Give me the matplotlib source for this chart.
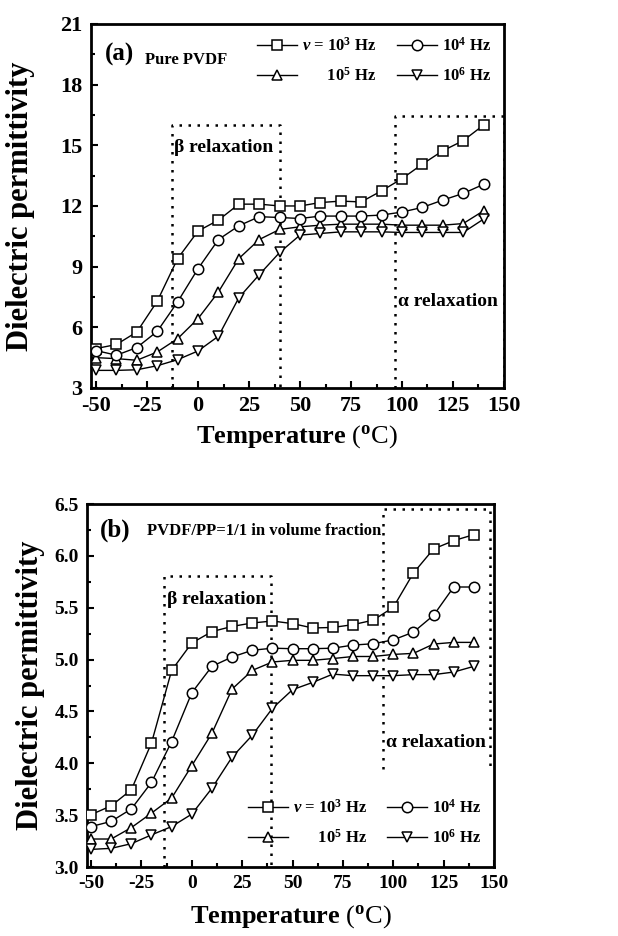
import numpy as np
import matplotlib
matplotlib.use("Agg")
import matplotlib.pyplot as plt
from matplotlib.ticker import MultipleLocator

plt.rcParams['font.family'] = ['Liberation Serif', 'DejaVu Serif']
plt.rcParams['font.weight'] = 'bold'
plt.rcParams['axes.unicode_minus'] = False
plt.rcParams['mathtext.fontset'] = 'custom'
plt.rcParams['mathtext.rm'] = 'Liberation Serif'
plt.rcParams['mathtext.bf'] = 'Liberation Serif:bold'
plt.rcParams['mathtext.it'] = 'Liberation Serif:italic'

# temperatures (C)
temp = [-50, -40, -30, -20, -10, 0, 10, 20, 30, 40, 50, 60, 70, 80, 90, 100, 110, 120, 130, 140]

# (a) pure PVDF
a_1e3 = [4.95, 5.15, 5.77, 7.29, 9.4, 10.76, 11.3, 12.09, 12.09, 12.0, 12.0, 12.17, 12.24, 12.2, 12.75, 13.35, 14.07, 14.73, 15.23, 16.0]
a_1e4 = [4.85, 4.62, 5.0, 5.8, 7.26, 8.9, 10.34, 11.02, 11.47, 11.43, 11.38, 11.5, 11.5, 11.5, 11.55, 11.7, 11.93, 12.29, 12.62, 13.07]
a_1e5 = [4.5, 4.45, 4.37, 4.78, 5.44, 6.43, 7.75, 9.4, 10.34, 10.84, 10.97, 11.05, 11.1, 11.1, 11.1, 11.05, 11.05, 11.05, 11.13, 11.76]
a_1e6 = [3.87, 3.87, 3.9, 4.1, 4.4, 4.83, 5.56, 7.46, 8.6, 9.7, 10.56, 10.64, 10.72, 10.72, 10.72, 10.69, 10.69, 10.69, 10.69, 11.35]

# (b) PVDF/PP = 1/1
b_1e3 = [3.505, 3.59, 3.745, 4.196, 4.896, 5.16, 5.27, 5.32, 5.353, 5.372, 5.347, 5.305, 5.31, 5.337, 5.38, 5.504, 5.835, 6.067, 6.147, 6.205]
b_1e4 = [3.39, 3.44, 3.56, 3.816, 4.21, 4.68, 4.935, 5.025, 5.09, 5.11, 5.105, 5.105, 5.11, 5.14, 5.153, 5.19, 5.265, 5.427, 5.7, 5.7]
b_1e5 = [3.27, 3.27, 3.38, 3.52, 3.665, 3.977, 4.29, 4.716, 4.896, 4.977, 4.993, 4.993, 5.01, 5.03, 5.03, 5.05, 5.06, 5.15, 5.166, 5.166]
b_1e6 = [3.17, 3.18, 3.225, 3.31, 3.39, 3.51, 3.76, 4.06, 4.27, 4.53, 4.71, 4.78, 4.86, 4.845, 4.845, 4.845, 4.855, 4.855, 4.88, 4.935]

labels = ["$\\it{\\nu}$ = 10$^{\\mathbf{3}}$ Hz", "      10$^{\\mathbf{5}}$ Hz",
          "10$^{\\mathbf{4}}$ Hz", "10$^{\\mathbf{6}}$ Hz"]
markers = ['s', '^', 'o', 'v']

# relaxation boxes: (x0, x1, y0, y1)
a_beta = (-13, 40, 3, 16)
a_alpha = (96.6, 150, 3, 16.45)
b_beta = (-13.6, 39.2, 3, 5.81)
b_alpha = (95, 147.9, 3.945, 6.45)

fig = plt.figure(figsize=(6.18, 9.36), dpi=100)
ax1 = fig.add_axes([0.1472, 0.5855, 0.6683, 0.3889])
ax2 = fig.add_axes([0.1408, 0.0737, 0.6586, 0.3878])


def draw_box(ax, box):
    x0, x1, y0, y1 = box
    ax.plot([x0, x0, x1, x1], [y0, y1, y1, y0], color='black', lw=1.8,
            linestyle=(0, (1, 2.6)), zorder=1)


def setup(ax, series, tick_fs):
    order = [series[0], series[2], series[1], series[3]]
    hs = []
    for ys, m in zip(order, markers):
        h, = ax.plot(temp, ys, color='black', lw=1.0, marker=m, markersize=7.5,
                     markerfacecolor='white', markeredgecolor='black', markeredgewidth=1.1, zorder=3)
        hs.append(h)
    ax.set_xlim(-52.5, 150)
    ax.xaxis.set_major_locator(MultipleLocator(25))
    ax.xaxis.set_minor_locator(MultipleLocator(12.5))
    ax.tick_params(which='both', direction='in', top=False, right=False, labelsize=tick_fs, width=1.5)
    ax.tick_params(which='major', length=5, pad=6)
    ax.tick_params(which='minor', length=3)
    for s in ax.spines.values():
        s.set_linewidth(2)
    ax.set_ylabel("Dielectric permittivity", fontsize=22, fontweight='bold')
    ax.set_xlabel(r"$\mathbf{Temperature}$ ($^{\mathrm{o}}$C)", fontsize=19, fontweight='normal')
    return hs


hs1 = setup(ax1, [a_1e3, a_1e4, a_1e5, a_1e6], 16)
ax1.set_ylim(3, 21)
ax1.yaxis.set_major_locator(MultipleLocator(3))
ax1.yaxis.set_minor_locator(MultipleLocator(1.5))
ax1.yaxis.set_label_coords(-0.136, 0.5)
ax1.xaxis.set_label_coords(0.5, -0.097)
draw_box(ax1, a_beta)
draw_box(ax1, a_alpha)
ax1.text(-45.5, 19.5, "(a)", fontsize=18, va='center')
ax1.text(-26, 19.2, "Pure PVDF", fontsize=12, va='center')
ax1.text(-12, 14.9, "β relaxation", fontsize=14, va='center')
ax1.text(98, 7.3, "α relaxation", fontsize=14, va='center')
ax1.legend(hs1, labels, ncol=2, frameon=False, fontsize=12, loc='upper right',
           bbox_to_anchor=(1.0, 1.0), handlelength=2.4, columnspacing=1.2,
           handletextpad=0.3, labelspacing=0.7, borderaxespad=0.4)

hs2 = setup(ax2, [b_1e3, b_1e4, b_1e5, b_1e6], 14)
ax2.set_xlim(-52, 150)
ax2.set_ylim(3.0, 6.5)
ax2.yaxis.set_major_locator(MultipleLocator(0.5))
ax2.yaxis.set_minor_locator(MultipleLocator(0.25))
ax2.yaxis.set_major_formatter(matplotlib.ticker.FormatStrFormatter('%.1f'))
ax2.yaxis.set_label_coords(-0.103, 0.5)
ax2.xaxis.set_label_coords(0.5, -0.1)
draw_box(ax2, b_beta)
draw_box(ax2, b_alpha)
ax2.text(-45.5, 6.25, "(b)", fontsize=18, va='center')
ax2.text(-22, 6.24, "PVDF/PP=1/1 in volume fraction", fontsize=12, va='center')
ax2.text(-12.5, 5.58, "β relaxation", fontsize=14, va='center')
ax2.text(96.5, 4.2, "α relaxation", fontsize=14, va='center')
ax2.legend(hs2, labels, ncol=2, frameon=False, fontsize=12, loc='lower right',
           bbox_to_anchor=(1.0, 0.02), handlelength=2.4, columnspacing=1.2,
           handletextpad=0.3, labelspacing=0.7, borderaxespad=0.4)

fig.savefig("out.png", dpi=100)
